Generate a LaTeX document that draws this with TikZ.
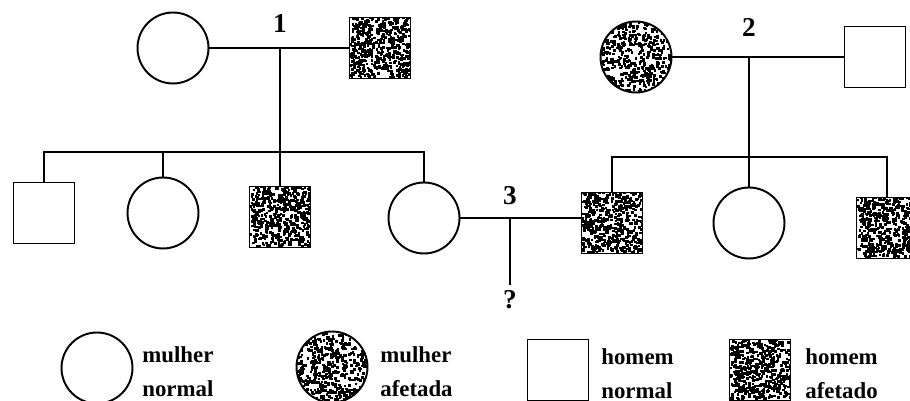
\documentclass[tikz,border=0pt]{standalone}
\usepackage{fontspec}
\setmainfont{Liberation Serif}
\usetikzlibrary{calc,positioning}

\tikzset{
	ped/.style={draw=black, line width=1.1pt, inner sep=0pt},
	female/.style={ped, circle, minimum size=1.42cm},
	male/.style={ped, rectangle, minimum size=1.22cm},
	affected/.style={path picture={
		\foreach \k in {1,...,520}{
			\fill let \p1=(path picture bounding box.south west),
			          \p2=(path picture bounding box.north east) in
			  ({\x1+rnd*(\x2-\x1)},{\y1+rnd*(\y2-\y1)}) rectangle ++(1.5pt,1.5pt);
		}}},
	line/.style={line width=1.1pt},
	gen/.style={font=\fontsize{15.5}{15.5}\selectfont\bfseries},
	legtext/.style={font=\fontsize{13}{19.3}\selectfont\bfseries, align=left,
		anchor=north west, inner sep=0pt}
}

\begin{document}
\begin{tikzpicture}[x=0.02cm,y=-0.02cm]
	\pgfmathsetseed{4242}
	\useasboundingbox (0,0) rectangle (910,401);
	
	% couple 1
	\node[female] (f1) at (173,48) {};
	\node[male,affected] (m1) at (380,48) {};
	\node[gen] (n1) at (280,24) {1};
	\draw[line] (f1) -- (m1);
	\coordinate (c1) at (280,48);
	\coordinate (s1) at (280,152);
	\draw[line] (c1) -- (s1);
	
	\node[male] (k1) at (44,213) {};
	\node[female] (k2) at (163,213) {};
	\node[male,affected] (k3) at (280,217) {};
	\node[female] (k4) at (424,218) {};
	\draw[line] (k1.north) |- (s1) -| (k4.north);
	\draw[line] (k2.north) -- (k2.north |- s1);
	\draw[line] (k3.north) -- (s1);
	
	% couple 2
	\node[female,affected] (f2) at (636,57) {};
	\node[male] (m2) at (875,57) {};
	\node[gen] (n2) at (749,27) {2};
	\draw[line] (f2) -- (m2);
	\coordinate (c2) at (749,57);
	\coordinate (s2) at (749,157);
	\draw[line] (c2) -- (s2);
	
	\node[male,affected] (k5) at (612,223) {};
	\node[female] (k6) at (749,223) {};
	\node[male,affected] (k7) at (887,228) {};
	\draw[line] (k5.north) |- (s2) -| (k7.north);
	\draw[line] (k6) -- (s2);
	
	% couple 3
	\draw[line] (k4.east) -- (k4.east -| k5.west);
	\node[gen] (n3) at (510,196) {3};
	\coordinate (c3) at (510,218);
	\node[gen] (q) at (510,300) {?};
	\draw[line] (c3) -- (q);
	
	% legenda
	\node[female] (lf) at (97,368) {};
	\node[legtext] (tlf) at (142,346) {mulher\\normal};
	\node[female,affected] (lfa) at (332,367) {};
	\node[legtext] (tlfa) at (380,346) {mulher\\afetada};
	\node[male] (lm) at (558,370) {};
	\node[legtext] (tlm) at (601,348) {homem\\normal};
	\node[male,affected] (lma) at (760,370) {};
	\node[legtext] (tlma) at (805,348) {homem\\afetado};
\end{tikzpicture}
\end{document}
